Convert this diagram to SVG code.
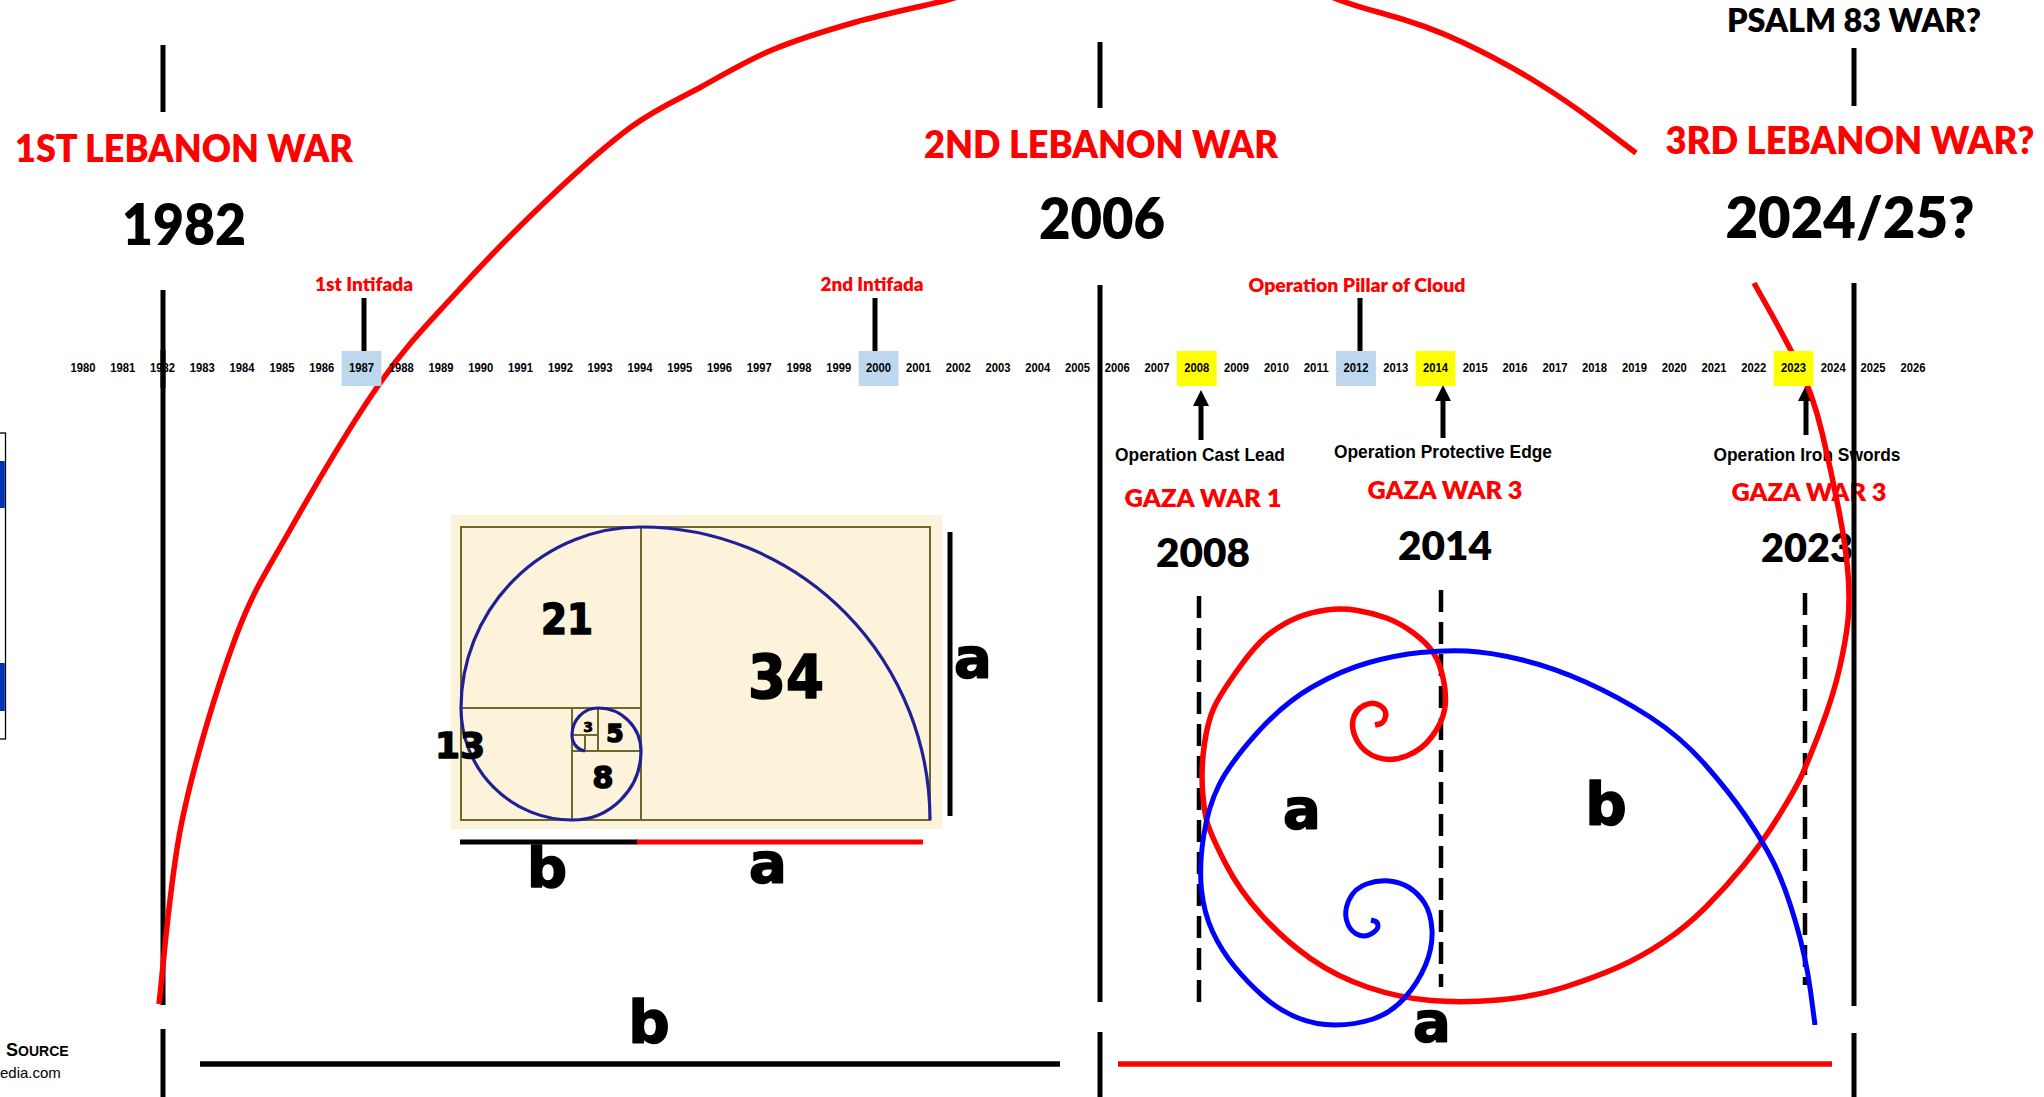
<svg xmlns="http://www.w3.org/2000/svg" width="2044" height="1097" viewBox="0 0 2044 1097">
<style>
.t{font-family:Lato,'Open Sans','Liberation Sans',sans-serif;font-weight:800;text-anchor:middle}
.red{fill:#FF0000}
.blk{fill:#000}
.yr{font-family:'Liberation Sans',Arial,sans-serif;font-weight:bold;font-size:12.5px;text-anchor:middle;fill:#000}
.op{font-family:'Liberation Sans',Arial,sans-serif;font-weight:bold;font-size:19px;text-anchor:middle;fill:#000}
.hv{font-family:'DejaVu Sans','Liberation Sans',sans-serif;font-weight:bold;text-anchor:middle;fill:#000;stroke:#000;stroke-width:1.6;stroke-linejoin:round}
.vl{stroke:#000;stroke-width:5;fill:none}
.dash{stroke:#000;stroke-width:4.5;stroke-dasharray:22 10;fill:none}
.rc{fill:none;stroke:#FF0000;stroke-width:5.5;stroke-linejoin:round}
.bc{fill:none;stroke:#0000FF;stroke-width:5;stroke-linejoin:round}
.fl{stroke:#6B6A2C;stroke-width:2;fill:none}
.hlb{fill:#BDD7EE}
.hly{fill:#FFFF00}
</style>
<defs>
<marker id="ah" viewBox="0 0 16 16" markerWidth="16" markerHeight="16" refX="2" refY="8" orient="auto" markerUnits="userSpaceOnUse">
<path d="M0,0 L16,8 L0,16 z" fill="#000"/>
</marker>
</defs>
<rect width="2044" height="1097" fill="#fff"/>

<g id="flag">
<rect x="-2" y="433" width="7.5" height="306" fill="#fff" stroke="#000" stroke-width="1.3"/>
<rect x="0" y="461" width="4.8" height="47" fill="#0033B4"/>
<rect x="0" y="663" width="4.8" height="48" fill="#0033B4"/>
</g>

<g id="source">
<text x="6" y="1056" style="font-family:'Liberation Sans',Arial,sans-serif;font-weight:bold;fill:#000"><tspan font-size="18">S</tspan><tspan font-size="14">OURCE</tspan></text>
<text x="0" y="1078" style="font-family:'Liberation Sans',Arial,sans-serif;font-size:15px;fill:#000">edia.com</text>
</g>

<g id="fibonacci-box">
<rect x="451" y="515" width="491" height="314" fill="#FCF3DA"/>
<rect x="461" y="527" width="469" height="293" class="fl"/>
<line x1="641" y1="527" x2="641" y2="820" class="fl"/>
<line x1="461" y1="708" x2="641" y2="708" class="fl"/>
<line x1="572" y1="708" x2="572" y2="820" class="fl"/>
<line x1="572" y1="751" x2="641" y2="751" class="fl"/>
<line x1="598" y1="708" x2="598" y2="751" class="fl"/>
<line x1="572" y1="735" x2="598" y2="735" class="fl"/>
<line x1="585" y1="735" x2="585" y2="751" class="fl"/>
<path d="M930,820 A289,293 0 0 0 641,527 A180,181 0 0 0 461,708 A111,112 0 0 0 572,820 A69,69 0 0 0 641,751 A43,43 0 0 0 598,708 A26,27 0 0 0 572,735 A15,16 0 0 0 585,751" fill="none" stroke="#1F1F96" stroke-width="3.2"/>
<text x="567" y="634" class="hv" font-size="42" textLength="52" lengthAdjust="spacingAndGlyphs">21</text>
<text x="786" y="698" class="hv" font-size="60" textLength="76" lengthAdjust="spacingAndGlyphs">34</text>
<text x="460" y="758" class="hv" font-size="36" textLength="50" lengthAdjust="spacingAndGlyphs">13</text>
<text x="615" y="742" class="hv" font-size="25">5</text>
<text x="588" y="732" class="hv" font-size="14" style="stroke-width:0.8">3</text>
<text x="603" y="788" class="hv" font-size="30">8</text>
<line x1="950" y1="532" x2="950" y2="816" class="vl"/>
<text x="973" y="677" class="hv" font-size="56">a</text>
<line x1="460" y1="842" x2="638" y2="842" stroke="#000" stroke-width="5"/>
<line x1="637" y1="842" x2="923" y2="842" stroke="#FF0000" stroke-width="5"/>
<text x="547" y="887" class="hv" font-size="56">b</text>
<text x="768" y="882" class="hv" font-size="56">a</text>
</g>

<g id="war-1982">
<text x="184" y="162" class="t red" font-size="38" textLength="338" lengthAdjust="spacingAndGlyphs">1ST LEBANON WAR</text>
<text x="184" y="245" class="t blk" font-size="57" textLength="124" lengthAdjust="spacingAndGlyphs">1982</text>
</g>
<g id="war-2006">
<text x="1101" y="158" class="t red" font-size="37" textLength="354" lengthAdjust="spacingAndGlyphs">2ND LEBANON WAR</text>
<text x="1102" y="239" class="t blk" font-size="57" textLength="126" lengthAdjust="spacingAndGlyphs">2006</text>
</g>
<g id="war-2024">
<text x="1854" y="32" class="t blk" font-size="32" textLength="254" lengthAdjust="spacingAndGlyphs">PSALM 83 WAR?</text>
<text x="1850" y="154" class="t red" font-size="37" textLength="369" lengthAdjust="spacingAndGlyphs">3RD LEBANON WAR?</text>
<text x="1850" y="238" class="t blk" font-size="57" textLength="249" lengthAdjust="spacingAndGlyphs">2024/25?</text>
</g>
<g id="intifada-1">
<text x="364" y="291" class="t red" font-size="18" textLength="98" lengthAdjust="spacingAndGlyphs">1st Intifada</text>
</g>
<g id="intifada-2">
<text x="872" y="291" class="t red" font-size="18" textLength="103" lengthAdjust="spacingAndGlyphs">2nd Intifada</text>
</g>
<g id="pillar-of-cloud">
<text x="1357" y="292" class="t red" font-size="18" textLength="217" lengthAdjust="spacingAndGlyphs">Operation Pillar of Cloud</text>
</g>
<g id="gaza-2008">
<text x="1200" y="461" class="op" textLength="170" lengthAdjust="spacingAndGlyphs">Operation Cast Lead</text>
<text x="1203" y="507" class="t red" font-size="24" textLength="157" lengthAdjust="spacingAndGlyphs">GAZA WAR 1</text>
<text x="1203" y="567" class="t blk" font-size="40" textLength="94" lengthAdjust="spacingAndGlyphs">2008</text>
</g>
<g id="gaza-2014">
<text x="1443" y="458" class="op" textLength="218" lengthAdjust="spacingAndGlyphs">Operation Protective Edge</text>
<text x="1445" y="499" class="t red" font-size="24" textLength="155" lengthAdjust="spacingAndGlyphs">GAZA WAR 3</text>
<text x="1445" y="560" class="t blk" font-size="40" textLength="94" lengthAdjust="spacingAndGlyphs">2014</text>
</g>
<g id="gaza-2023">
<text x="1807" y="461" class="op" textLength="187" lengthAdjust="spacingAndGlyphs">Operation Iron Swords</text>
<text x="1809" y="501" class="t red" font-size="24" textLength="155" lengthAdjust="spacingAndGlyphs">GAZA WAR 3</text>
<text x="1807" y="562" class="t blk" font-size="40" textLength="92" lengthAdjust="spacingAndGlyphs">2023</text>
</g>
<g id="spiral-labels">
<text x="1302" y="828" class="hv" font-size="56">a</text>
<text x="1606" y="825" class="hv" font-size="58">b</text>
<text x="649" y="1043" class="hv" font-size="58">b</text>
<text x="1432" y="1041" class="hv" font-size="56">a</text>
</g>

<g id="connectors">
<line x1="163" y1="45" x2="163" y2="112" class="vl"/>
<line x1="163" y1="290" x2="163" y2="1005" class="vl"/>
<line x1="163" y1="1029" x2="163" y2="1097" class="vl"/>
<line x1="1100" y1="42" x2="1100" y2="108" class="vl"/>
<line x1="1100" y1="285" x2="1100" y2="1002" class="vl"/>
<line x1="1100" y1="1032" x2="1100" y2="1097" class="vl"/>
<line x1="1854" y1="48" x2="1854" y2="106" class="vl"/>
<line x1="1854" y1="283" x2="1854" y2="1006" class="vl"/>
<line x1="1854" y1="1033" x2="1854" y2="1097" class="vl"/>
<line x1="364" y1="298" x2="364" y2="352" class="vl"/>
<line x1="875" y1="298" x2="875" y2="352" class="vl"/>
<line x1="1360" y1="298" x2="1360" y2="352" class="vl"/>
<line x1="1199" y1="596" x2="1199" y2="1005" class="dash"/>
<line x1="1441" y1="590" x2="1441" y2="987" class="dash"/>
<line x1="1805" y1="593" x2="1805" y2="985" class="dash"/>
<line x1="1201" y1="440" x2="1201" y2="404" class="vl" marker-end="url(#ah)"/>
<line x1="1443" y1="438" x2="1443" y2="399" class="vl" marker-end="url(#ah)"/>
<line x1="1806" y1="435" x2="1806" y2="399" class="vl" marker-end="url(#ah)"/>
<line x1="200" y1="1064" x2="1060" y2="1064" stroke="#000" stroke-width="5.5"/>
<line x1="1118" y1="1064" x2="1832" y2="1064" stroke="#FF0000" stroke-width="5.5"/>
<path class="rc" d="M159,1004 C162.8,973.5 169.3,881.8 182,821 C194.7,760.2 217,687.5 235,639 C253,590.5 265.8,572.7 290,530 C314.2,487.3 352.3,422.5 380,383 C407.7,343.5 428.2,323.5 456,293 C483.8,262.5 517.8,227.7 547,200 C576.2,172.3 605.3,145.8 631,127 C656.7,108.2 677.5,99.8 701,87 C724.5,74.2 746.2,60.8 772,50 C797.8,39.2 826.8,30.3 856,22 C885.2,13.7 923,6.2 947,0 L1000,-15"/>
<path class="rc" d="M1290,-25 L1311.5,-12.5 Q1333,0 1379.5,12.5 Q1426,25 1463,42.5 Q1500,60 1533,80 Q1566,100 1601,126.5 L1636,153"/>
<path class="rc" d="M1754,283 L1770,311.5 Q1786,340 1799.5,367.5 Q1813,395 1822,432.5 Q1831,470 1838.5,508.5 Q1846,547 1848,573.5 Q1850,600 1848,620 Q1846,640 1839.5,668.5 Q1833,697 1819.5,732 Q1806,767 1799.5,780 Q1793,793 1777.5,818 Q1762,843 1744,865 Q1726,887 1706,907 Q1686,927 1663.5,942 Q1641,957 1618.5,967 Q1596,977 1565,987 Q1534,997 1498,1000 Q1462,1003 1431,1000.5 Q1400,998 1368.5,987.5 Q1337,977 1310.5,958.5 Q1284,940 1261.5,915 Q1239,890 1225.5,863.5 Q1212,837 1208,825 Q1204,813 1202.5,790 Q1201,767 1204.5,743.5 Q1208,720 1214.5,706.5 Q1221,693 1239,668 Q1257,643 1270.5,633 Q1284,623 1297.5,617.5 Q1311,612 1326.5,610 Q1342,608 1357.5,610.5 Q1373,613 1386.5,618 Q1400,623 1413.5,633 Q1427,643 1433.5,653 Q1440,663 1443.5,680 Q1447,697 1444.5,710 Q1442,723 1432,736.5 Q1422,750 1406.5,756 Q1391,762 1377.5,757.5 Q1364,753 1357.5,741.5 Q1351,730 1353,720 Q1355,710 1364,705.5 Q1373,701 1380,705.5 Q1387,710 1385.5,716.5 Q1384,723 1379.5,724 L1375,725"/>
<path class="bc" d="M1815,1025 L1810.5,991 Q1806,957 1795,920 Q1784,883 1773,861.5 Q1762,840 1746,816.5 Q1730,793 1705.5,765 Q1681,737 1650,717 Q1619,697 1585.5,682 Q1552,667 1520.5,659.5 Q1489,652 1467,651 Q1445,650 1420.5,652.5 Q1396,655 1369,662.5 Q1342,670 1313,686.5 Q1284,703 1257,733 Q1230,763 1219,785 Q1208,807 1203.5,837 Q1199,867 1201.5,890 Q1204,913 1212.5,931.5 Q1221,950 1234.5,966.5 Q1248,983 1263.5,996.5 Q1279,1010 1297,1017.5 Q1315,1025 1335,1025 Q1355,1025 1373,1019 Q1391,1013 1404.5,998 Q1418,983 1425.5,965 Q1433,947 1432,930 Q1431,913 1424.5,903 Q1418,893 1409,887.5 Q1400,882 1389,881 Q1378,880 1366.5,884 Q1355,888 1349.5,899 Q1344,910 1346.5,920 Q1349,930 1356.5,934 Q1364,938 1371,934 Q1378,930 1378,926 Q1378,922 1374.5,921 L1371,920"/>
</g>

<g id="timeline">
<rect x="341.6" y="351" width="39.8" height="35" class="hlb"/>
<rect x="858.7" y="351" width="39.8" height="35" class="hlb"/>
<rect x="1176.9" y="351" width="39.8" height="35" class="hly"/>
<rect x="1336.1" y="351" width="39.8" height="35" class="hlb"/>
<rect x="1415.6" y="351" width="39.8" height="35" class="hly"/>
<rect x="1773.6" y="351" width="39.8" height="35" class="hly"/>
<text class="yr" x="83.0" y="372" textLength="25" lengthAdjust="spacingAndGlyphs">1980</text>
<text class="yr" x="122.8" y="372" textLength="25" lengthAdjust="spacingAndGlyphs">1981</text>
<text class="yr" x="162.6" y="372" textLength="25" lengthAdjust="spacingAndGlyphs">1982</text>
<text class="yr" x="202.3" y="372" textLength="25" lengthAdjust="spacingAndGlyphs">1983</text>
<text class="yr" x="242.1" y="372" textLength="25" lengthAdjust="spacingAndGlyphs">1984</text>
<text class="yr" x="281.9" y="372" textLength="25" lengthAdjust="spacingAndGlyphs">1985</text>
<text class="yr" x="321.7" y="372" textLength="25" lengthAdjust="spacingAndGlyphs">1986</text>
<text class="yr" x="361.5" y="372" textLength="25" lengthAdjust="spacingAndGlyphs">1987</text>
<text class="yr" x="401.2" y="372" textLength="25" lengthAdjust="spacingAndGlyphs">1988</text>
<text class="yr" x="441.0" y="372" textLength="25" lengthAdjust="spacingAndGlyphs">1989</text>
<text class="yr" x="480.8" y="372" textLength="25" lengthAdjust="spacingAndGlyphs">1990</text>
<text class="yr" x="520.6" y="372" textLength="25" lengthAdjust="spacingAndGlyphs">1991</text>
<text class="yr" x="560.4" y="372" textLength="25" lengthAdjust="spacingAndGlyphs">1992</text>
<text class="yr" x="600.1" y="372" textLength="25" lengthAdjust="spacingAndGlyphs">1993</text>
<text class="yr" x="639.9" y="372" textLength="25" lengthAdjust="spacingAndGlyphs">1994</text>
<text class="yr" x="679.7" y="372" textLength="25" lengthAdjust="spacingAndGlyphs">1995</text>
<text class="yr" x="719.5" y="372" textLength="25" lengthAdjust="spacingAndGlyphs">1996</text>
<text class="yr" x="759.3" y="372" textLength="25" lengthAdjust="spacingAndGlyphs">1997</text>
<text class="yr" x="799.0" y="372" textLength="25" lengthAdjust="spacingAndGlyphs">1998</text>
<text class="yr" x="838.8" y="372" textLength="25" lengthAdjust="spacingAndGlyphs">1999</text>
<text class="yr" x="878.6" y="372" textLength="25" lengthAdjust="spacingAndGlyphs">2000</text>
<text class="yr" x="918.4" y="372" textLength="25" lengthAdjust="spacingAndGlyphs">2001</text>
<text class="yr" x="958.2" y="372" textLength="25" lengthAdjust="spacingAndGlyphs">2002</text>
<text class="yr" x="997.9" y="372" textLength="25" lengthAdjust="spacingAndGlyphs">2003</text>
<text class="yr" x="1037.7" y="372" textLength="25" lengthAdjust="spacingAndGlyphs">2004</text>
<text class="yr" x="1077.5" y="372" textLength="25" lengthAdjust="spacingAndGlyphs">2005</text>
<text class="yr" x="1117.3" y="372" textLength="25" lengthAdjust="spacingAndGlyphs">2006</text>
<text class="yr" x="1157.1" y="372" textLength="25" lengthAdjust="spacingAndGlyphs">2007</text>
<text class="yr" x="1196.8" y="372" textLength="25" lengthAdjust="spacingAndGlyphs">2008</text>
<text class="yr" x="1236.6" y="372" textLength="25" lengthAdjust="spacingAndGlyphs">2009</text>
<text class="yr" x="1276.4" y="372" textLength="25" lengthAdjust="spacingAndGlyphs">2010</text>
<text class="yr" x="1316.2" y="372" textLength="25" lengthAdjust="spacingAndGlyphs">2011</text>
<text class="yr" x="1356.0" y="372" textLength="25" lengthAdjust="spacingAndGlyphs">2012</text>
<text class="yr" x="1395.7" y="372" textLength="25" lengthAdjust="spacingAndGlyphs">2013</text>
<text class="yr" x="1435.5" y="372" textLength="25" lengthAdjust="spacingAndGlyphs">2014</text>
<text class="yr" x="1475.3" y="372" textLength="25" lengthAdjust="spacingAndGlyphs">2015</text>
<text class="yr" x="1515.1" y="372" textLength="25" lengthAdjust="spacingAndGlyphs">2016</text>
<text class="yr" x="1554.9" y="372" textLength="25" lengthAdjust="spacingAndGlyphs">2017</text>
<text class="yr" x="1594.6" y="372" textLength="25" lengthAdjust="spacingAndGlyphs">2018</text>
<text class="yr" x="1634.4" y="372" textLength="25" lengthAdjust="spacingAndGlyphs">2019</text>
<text class="yr" x="1674.2" y="372" textLength="25" lengthAdjust="spacingAndGlyphs">2020</text>
<text class="yr" x="1714.0" y="372" textLength="25" lengthAdjust="spacingAndGlyphs">2021</text>
<text class="yr" x="1753.8" y="372" textLength="25" lengthAdjust="spacingAndGlyphs">2022</text>
<text class="yr" x="1793.5" y="372" textLength="25" lengthAdjust="spacingAndGlyphs">2023</text>
<text class="yr" x="1833.3" y="372" textLength="25" lengthAdjust="spacingAndGlyphs">2024</text>
<text class="yr" x="1873.1" y="372" textLength="25" lengthAdjust="spacingAndGlyphs">2025</text>
<text class="yr" x="1912.9" y="372" textLength="25" lengthAdjust="spacingAndGlyphs">2026</text>
<line x1="163" y1="350" x2="163" y2="388" class="vl"/>
</g>
</svg>
